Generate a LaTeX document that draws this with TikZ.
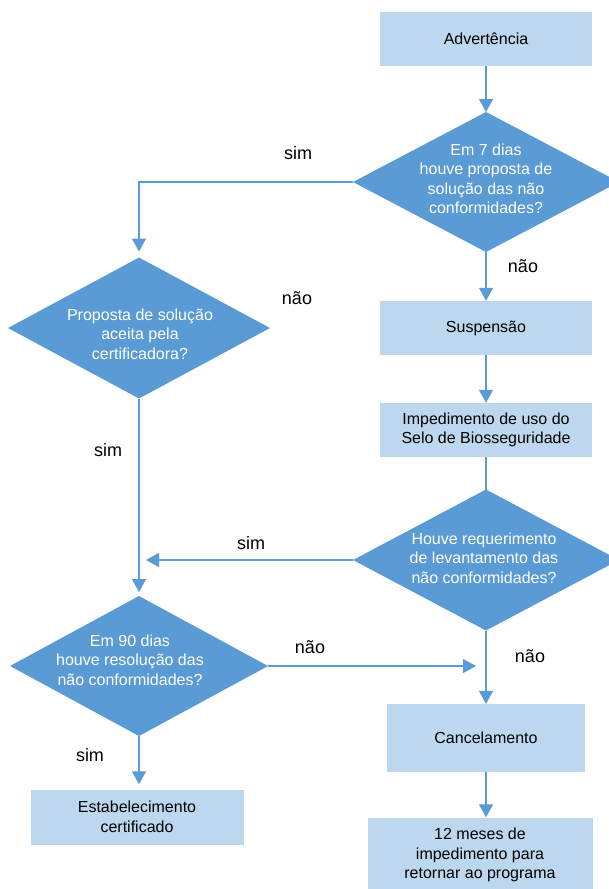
\documentclass[tikz,border=0pt]{standalone}
\usepackage{fontspec}
\setmainfont{Liberation Sans}
\usetikzlibrary{shapes.geometric,arrows.meta}
\definecolor{dblue}{HTML}{5B9BD5}
\definecolor{lblue}{HTML}{BDD7EE}
\tikzset{box/.style={rectangle,fill=lblue,minimum width=212pt,minimum height=54pt,inner sep=2pt,align=center,font=\fontsize{16}{19.5}\selectfont}}
\tikzset{decision/.style={diamond,fill=dblue,minimum width=266pt,minimum height=140pt,inner sep=0pt,outer sep=0pt}}
\tikzset{qtext/.style={text=white,align=center,font=\fontsize{16}{19.5}\selectfont}}
\tikzset{lbl/.style={font=\fontsize{18}{21}\selectfont}}
\tikzset{flow/.style={draw=dblue,line width=1.3pt,-{Triangle[length=13pt,width=14pt]}}}
\tikzset{link/.style={draw=dblue,line width=1.3pt}}

\begin{document}
\begin{tikzpicture}[x=1pt,y=-1pt]
\useasboundingbox (0,0) rectangle (608,889);
% right column
\node (adv) at (486,39)[box]{Advertência};
\node (d1) at (486,182)[decision]{};
\node (d1t) at (486,179)[qtext]{Em 7 dias\\houve proposta de\\solução das não\\conformidades?};
\node (sus) at (486,328)[box]{Suspensão};
\node (imp) at (486,430)[box]{Impedimento de uso do\\Selo de Biosseguridade};
\node (d3) at (486,560)[decision,minimum height=141pt]{};
\node (d3t) at (484,558)[qtext]{Houve requerimento\\de levantamento das\\não conformidades?};
\node (can) at (486,738)[box,minimum width=198pt,minimum height=68pt]{Cancelamento};
\node (mes) at (480,855)[box,minimum width=225pt,minimum height=75pt]{12 meses de\\impedimento para\\retornar ao programa};
% left column
\node (d2) at (139,328)[decision,minimum width=262pt,minimum height=141pt]{};
\node (d2t) at (140,334)[qtext]{Proposta de solução\\aceita pela\\certificadora?};
\node (d4) at (139,666)[decision,minimum width=258pt]{};
\node (d4t) at (130,660)[qtext]{Em 90 dias\\houve resolução das\\não conformidades?};
\node (est) at (137,817)[box,minimum width=213pt,minimum height=55pt]{Estabelecimento\\certificado};
\coordinate (j1) at (146,560);
\coordinate (j2) at (476,666);

\draw[flow] (adv) -- (d1.north);
\draw[flow, shorten >=6pt] (d1.west) -| (d2.north);
\draw[flow] (d1.south) -- (sus.north);
\draw[flow] (sus) -- (imp);
\draw[link] (imp) -- (d3.north);
\draw[flow] (d3.west) -- (j1);
\draw[flow, shorten >=4pt] (d2.south) -- (d4.north);
\draw[flow] (d4.east) -- (j2);
\draw[flow] (d3.south) -- (can.north);
\draw[flow] (can.south) -- (can.south |- mes.north);
\draw[flow, shorten >=5pt] (d4.south) -- (d4.south |- est.north);

%labels
\node (l1) at (298,153)[lbl]{sim};
\node (l2) at (523,266)[lbl]{não};
\node (l3) at (297,298)[lbl]{não};
\node (l4) at (108,450)[lbl]{sim};
\node (l5) at (251,543)[lbl]{sim};
\node (l6) at (310,647)[lbl]{não};
\node (l7) at (530,656)[lbl]{não};
\node (l8) at (90,755)[lbl]{sim};
\end{tikzpicture}
\end{document}
